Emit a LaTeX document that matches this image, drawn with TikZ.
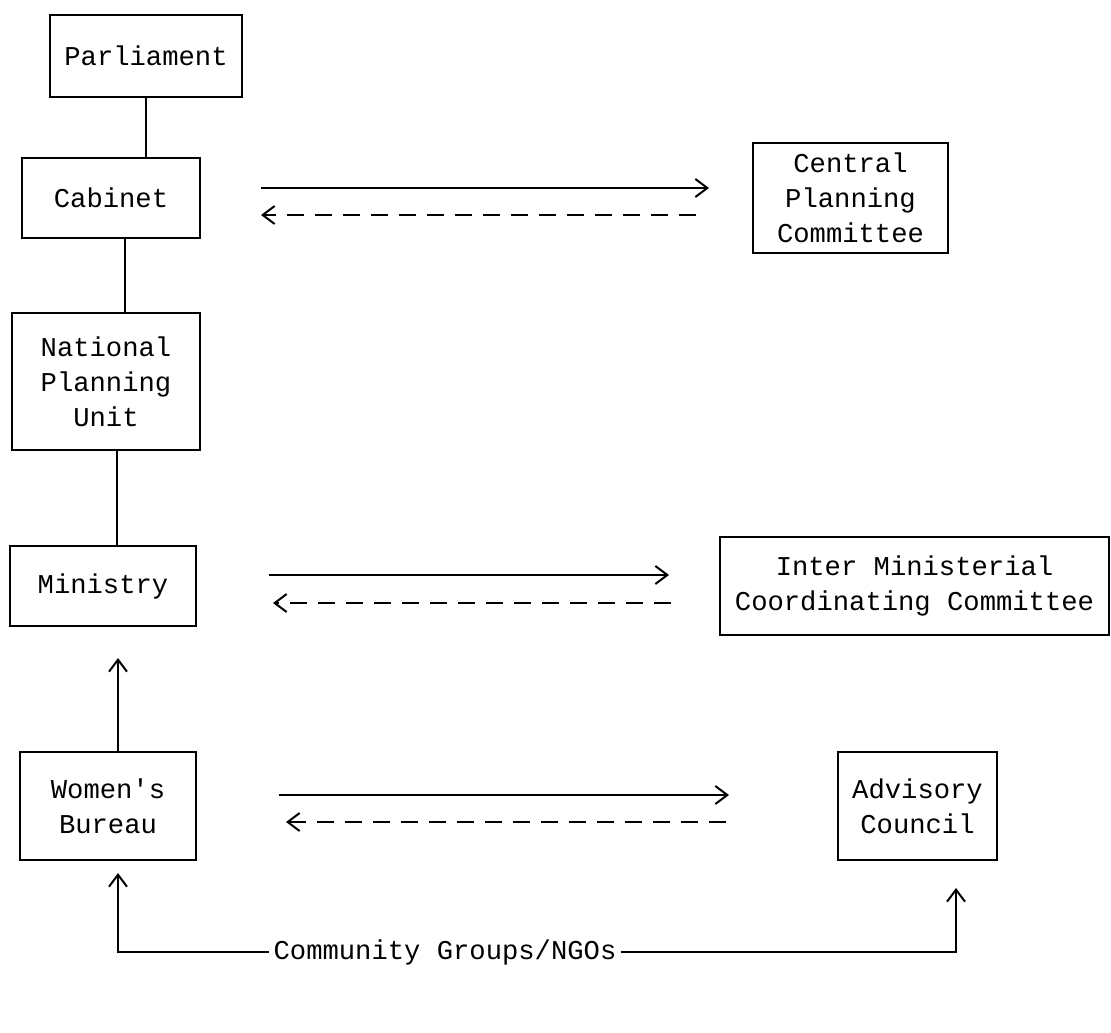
\documentclass[tikz,border=0pt]{standalone}
\usepackage{fontspec}
\setmonofont{Liberation Mono}
\usepackage{tikz}
\usetikzlibrary{arrows.meta,calc,positioning}

\begin{document}
\begin{tikzpicture}[x=0.5pt,y=-0.5pt,
  unit/.style={draw,line width=1pt,align=center,inner sep=0pt,
    font=\ttfamily\fontsize{13.6}{17.5}\selectfont},
  label/.style={inner xsep=2pt,font=\ttfamily\fontsize{13.6}{17.5}\selectfont},
  link/.style={line width=1pt},
  flow/.style={line width=1pt,-{Straight Barb[length=6pt,width=9pt]}},
  feedback/.style={flow,dash pattern=on 8.5pt off 5.5pt}]
\useasboundingbox (0,0) rectangle (1111,1032);

% Government chain
\node[unit,minimum width=96pt,minimum height=41pt] (parliament) at (146,56) {Parliament};
\node[unit,minimum width=89pt,minimum height=40pt] (cabinet) at (111,198) {Cabinet};
\node[unit,minimum width=94pt,minimum height=68.5pt] (npu) at (106,381.5) {National\\Planning\\Unit};
\node[unit,minimum width=93pt,minimum height=40pt] (ministry) at (103,586) {Ministry};
\node[unit,minimum width=88pt,minimum height=54pt] (bureau) at (108,806) {Women's\\Bureau};

% Committees and council
\node[unit,minimum width=97.5pt,minimum height=55pt] (cpc) at (850.5,198) {Central\\Planning\\Committee};
\node[unit,minimum width=194.5pt,minimum height=49pt] (imcc) at (914.5,586) {Inter Ministerial\\Coordinating Committee};
\node[unit,minimum width=79.5pt,minimum height=54pt] (council) at (917.5,806) {Advisory\\Council};

\node[label] (ngo) at (445,952) {Community Groups/NGOs};

% Vertical links
\draw[link] (parliament.south) -- (parliament.south |- cabinet.north);
\draw[link] ([xshift=7pt]cabinet.south) -- ([xshift=7pt]cabinet.south |- npu.north);
\draw[link] ([xshift=5.5pt]npu.south) -- ([xshift=5.5pt]npu.south |- ministry.north);
\draw[flow,shorten >=15.5pt] ([xshift=5pt]bureau.north) -- ([xshift=5pt]bureau.north |- ministry.south);

% Two-way exchanges
\draw[flow] ([xshift=30pt,yshift=5pt]cabinet.east) -- ([xshift=-21.5pt,yshift=5pt]cpc.west);
\draw[feedback] ([xshift=-28pt,yshift=-8.5pt]cpc.west) -- ([xshift=30pt,yshift=-8.5pt]cabinet.east);
\draw[flow] ([xshift=36pt,yshift=5.5pt]ministry.east) -- ([xshift=-25pt,yshift=5.5pt]imcc.west);
\draw[feedback] ([xshift=-24pt,yshift=-8.5pt]imcc.west) -- ([xshift=38pt,yshift=-8.5pt]ministry.east);
\draw[flow] ([xshift=41pt,yshift=5.5pt]bureau.east) -- ([xshift=-54pt,yshift=5.5pt]council.west);
\draw[feedback] ([xshift=-55.5pt,yshift=-8pt]council.west) -- ([xshift=44.5pt,yshift=-8pt]bureau.east);

% Community input
\draw[flow,shorten >=6pt] (ngo.west) -| ([xshift=5pt]bureau.south);
\draw[flow,shorten >=13.5pt] (ngo.east) -| ([xshift=19.25pt]council.south);
\end{tikzpicture}
\end{document}
